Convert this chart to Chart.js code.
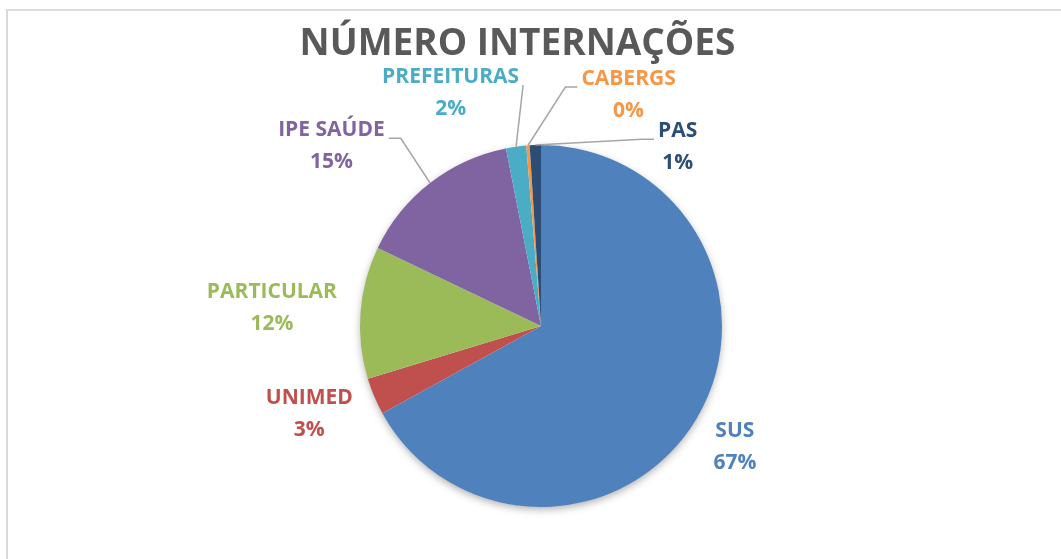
<!DOCTYPE html>
<html>
<head>
<meta charset="utf-8">
<script src="https://cdn.jsdelivr.net/npm/chart.js@4/dist/chart.umd.min.js"></script>
<style>
  html, body { margin: 0; padding: 0; background: #fff; }
  canvas { display: block; }
</style>
</head>
<body>
<canvas id="grafico" width="1061" height="559"></canvas>
<script>
// dados do grafico
var titulo = "NÚMERO INTERNAÇÕES";
var categorias = ["SUS", "UNIMED", "PARTICULAR", "IPE SAÚDE", "PREFEITURAS", "CABERGS", "PAS"];
var valores = [67.0, 3.3, 11.8, 14.8, 1.8, 0.3, 1.0];
var cores = ["#4F81BD", "#C0504D", "#9BBB59", "#8064A2", "#4BACC6", "#F79646", "#2C4D75"];

// posicao dos rotulos: desvio do angulo (graus) e raio relativo, linha guia
var rotuloDesvio = [1.4, 2, -0.5, -11.6, -13.3, 24.9, 39.2];
var rotuloRaio = [1.263, 1.37, 1.49, 1.525, 1.38, 1.365, 1.243];
var rotuloGuia = [false, false, false, true, true, true, true];

var fonteRotulo = "bold 21px 'Open Sans', sans-serif";

// moldura cinza em volta + titulo
var moldura = {
	id: 'moldura',
	beforeDraw: function(chart) {
		var ctx = chart.ctx;
		ctx.save();
		ctx.fillStyle = '#fff';
		ctx.fillRect(0, 0, chart.width, chart.height);
		ctx.strokeStyle = '#d9d9d9';
		ctx.lineWidth = 2;
		ctx.strokeRect(7, 10, chart.width + 20, chart.height + 20);
		ctx.fillStyle = '#595959';
		ctx.font = "bold 37px 'Open Sans', sans-serif";
		ctx.textAlign = 'center';
		ctx.textBaseline = 'alphabetic';
		ctx.fillText(titulo, chart.width / 2 - 13, 55);
		ctx.restore();
	}
};

// sombra do disco
var sombra = {
	id: 'sombra',
	beforeDatasetsDraw: function(chart) {
		var arc = chart.getDatasetMeta(0).data[0];
		var ctx = chart.ctx;
		ctx.save();
		ctx.shadowColor = 'rgba(0,0,0,0.35)';
		ctx.shadowBlur = 9;
		ctx.shadowOffsetY = 3;
		ctx.fillStyle = '#fff';
		ctx.beginPath();
		ctx.arc(arc.x, arc.y, arc.outerRadius - 1, 0, Math.PI * 2);
		ctx.fill();
		ctx.restore();
	}
};

// rotulos com nome e porcentagem
var rotulos = {
	id: 'rotulos',
	afterDatasetsDraw: function(chart) {
		var ctx = chart.ctx;
		var dados = chart.data.datasets[0].data;
		var total = dados.reduce(function(a, b) { return a + b; }, 0);
		var meta = chart.getDatasetMeta(0);
		ctx.save();
		ctx.font = fonteRotulo;
		ctx.textAlign = 'center';
		ctx.textBaseline = 'middle';
		meta.data.forEach(function(arc, i) {
			var meio = (arc.startAngle + arc.endAngle) / 2;
			var ang = meio + rotuloDesvio[i] * Math.PI / 180;
			var r = arc.outerRadius;
			var lx = arc.x + Math.cos(ang) * r * rotuloRaio[i];
			var ly = arc.y + Math.sin(ang) * r * rotuloRaio[i];
			var linha1 = chart.data.labels[i];
			var linha2 = Math.round(dados[i] / total * 100) + '%';

			if (rotuloGuia[i]) {
				var larg = Math.max(ctx.measureText(linha1).width, ctx.measureText(linha2).width) / 2;
				var ex = arc.x + Math.cos(meio) * r;
				var ey = arc.y + Math.sin(meio) * r;
				var sx, dir;
				if (lx < ex) { sx = lx + larg + 4; dir = 1; } else { sx = lx - larg - 4; dir = -1; }
				var sy = ly - 8;
				var cot = 0;
				if ((ex - sx) * dir > 12) cot = 12 * dir;
				ctx.strokeStyle = '#a6a6a6';
				ctx.lineWidth = 1.5;
				ctx.beginPath();
				ctx.moveTo(sx, sy);
				ctx.lineTo(sx + cot, sy);
				ctx.lineTo(ex, ey);
				ctx.stroke();
			}

			ctx.fillStyle = cores[i];
			ctx.fillText(linha1, lx, ly - 16);
			ctx.fillText(linha2, lx, ly + 16);
		});
		ctx.restore();
	}
};

var ctx = document.getElementById('grafico');
var grafico = new Chart(ctx, {
	type: 'pie',
	data: {
		labels: categorias,
		datasets: [{
			data: valores,
			backgroundColor: cores,
			borderWidth: 0
		}]
	},
	options: {
		responsive: false,
		animation: false,
		layout: { padding: { left: 21, right: 0, top: 145, bottom: 52 } },
		plugins: {
			legend: { display: false },
			tooltip: { enabled: false },
			title: { display: false }
		}
	},
	plugins: [moldura, sombra, rotulos]
});
</script>
</body>
</html>
